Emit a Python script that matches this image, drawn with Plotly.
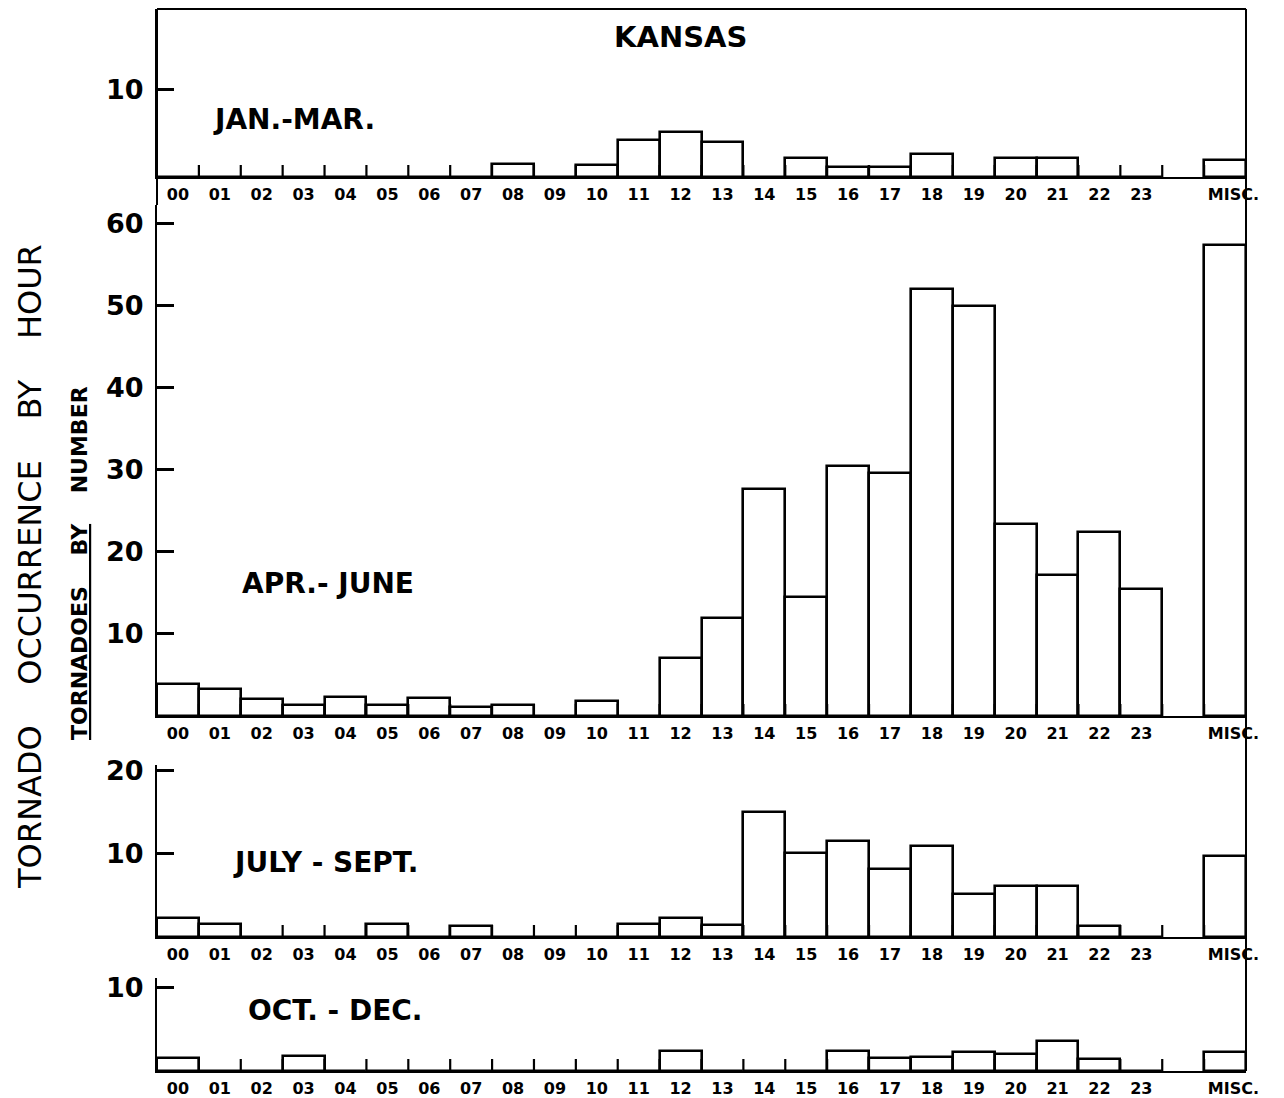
import plotly.graph_objects as go

# ---------------- data ----------------
hour_labels = ["00", "01", "02", "03", "04", "05", "06", "07", "08", "09", "10", "11",
               "12", "13", "14", "15", "16", "17", "18", "19", "20", "21", "22", "23"]
misc_label = "MISC."

jan_mar = [0, 0, 0, 0, 0, 0, 0, 0, 1.5, 0, 1.4, 4.2, 5.2, 4.0, 0, 2.2, 1.2, 1.2, 2.6, 0, 2.2, 2.2, 0, 0]
jan_mar_misc = 2.0

apr_jun = [3.9, 3.3, 2.1, 1.3, 2.3, 1.3, 2.2, 1.1, 1.4, 0, 1.8, 0, 7.1, 12.0, 27.7, 14.5, 30.5, 29.6,
           52.1, 50.0, 23.4, 17.2, 22.4, 15.5]
apr_jun_misc = 57.4

jul_sep = [2.3, 1.6, 0, 0, 0, 1.6, 0, 1.3, 0, 0, 0, 1.6, 2.3, 1.4, 15.1, 10.1, 11.5, 8.2, 10.9, 5.2,
           6.1, 6.1, 1.3, 0]
jul_sep_misc = 9.7

oct_dec = [1.6, 0, 0, 1.8, 0, 0, 0, 0, 0, 0, 0, 0, 2.4, 0, 0, 0, 2.4, 1.5, 1.7, 2.3, 2.0, 3.6, 1.4, 0]
oct_dec_misc = 2.3

panel_names = ["JAN.-MAR.", "APR.- JUNE", "JULY - SEPT.", "OCT. - DEC."]
panel_yticks = [[10], [10, 20, 30, 40, 50, 60], [10, 20], [10]]

# ---------------- layout helpers ----------------
OFF = 8                      # page body margin
W, H = 1276, 1090            # figure size (fits the window together with the body margin)
L = 157 - OFF
T = 1
R = W - (1246 - OFF)
B = H - (1071 - OFF)
PW, PH = W - L - R, H - T - B


def clamp(v):
    return min(1.0, max(0.0, v))


def px(x):            # screen x -> paper
    return (x - OFF - L) / PW


def py(y):            # screen y -> paper
    return clamp((H - B - (y - OFF)) / PH)


FONT = "DejaVu Sans"
nb = "\u00a0"
TICK_UP = 12          # pixel height of the hour-boundary tick marks

# panels: (values, misc, baseline px, top px, range max)
panels = [
    (jan_mar, jan_mar_misc, 177, 9, 19.3),
    (apr_jun, apr_jun_misc, 716, 205, 62.3),
    (jul_sep, jul_sep_misc, 937, 765, 20.7),
    (oct_dec, oct_dec_misc, 1071, 978, 11.1),
]

n = len(hour_labels)
xmax = n + 2
misc_pos = n + 1.5
x_centers = [i + 0.5 for i in range(n)] + [misc_pos]
label_pos_x = [i + 0.5 for i in range(n)] + [misc_pos + 0.2]
boundaries = list(range(1, n + 1)) + [n + 1]

# tick-mark segments built from the bin boundaries (strip y scale runs 0..1)
tick_x, tick_y = [], []
for b in boundaries:
    tick_x += [b, b, None]
    tick_y += [0, 1, None]

fig = go.Figure()
for k, (vals, misc, base, top, ymax) in enumerate(panels):
    idx = "" if k == 0 else str(k + 1)
    sidx = str(k + 5)
    yv = list(vals) + [misc]
    fig.add_trace(go.Bar(
        x=x_centers, y=yv, width=1,
        marker=dict(color="rgba(0,0,0,0)", line=dict(color="black", width=2.6)),
        xaxis="x" + idx, yaxis="y" + idx, showlegend=False, hoverinfo="skip",
    ))
    fig.layout["xaxis" + idx] = dict(
        domain=[0, 1], anchor="y" + idx, range=[0, xmax],
        tickmode="array", tickvals=label_pos_x, ticktext=hour_labels + [misc_label],
        ticks="", ticklabelstandoff=2,
        tickfont=dict(family=FONT, size=16, color="black", weight="bold"),
        showline=True, linecolor="black", linewidth=1.6,
        showgrid=False, zeroline=False, fixedrange=True,
    )
    fig.layout["yaxis" + idx] = dict(
        domain=[py(base), py(top)], anchor="x" + idx, range=[0, ymax],
        tickmode="array", tickvals=panel_yticks[k], ticks="inside", ticklen=17, tickwidth=2.5,
        tickcolor="black",
        tickfont=dict(family=FONT, size=27, color="black", weight="bold"),
        ticklabelstandoff=6,
        showline=True, linecolor="black", linewidth=2, showgrid=False, zeroline=False,
        fixedrange=True,
    )
    # thin strip just above the baseline holding the hour-boundary tick marks
    fig.add_trace(go.Scatter(
        x=tick_x, y=tick_y, mode="lines", line=dict(color="black", width=2.2),
        xaxis="x" + sidx, yaxis="y" + sidx, showlegend=False, hoverinfo="skip",
        cliponaxis=False,
    ))
    fig.layout["xaxis" + sidx] = dict(
        domain=[0, 1], anchor="y" + sidx, range=[0, xmax], visible=False,
        showgrid=False, zeroline=False, fixedrange=True,
    )
    fig.layout["yaxis" + sidx] = dict(
        domain=[py(base), py(base - TICK_UP)], anchor="x" + sidx, range=[0, 1],
        visible=False, showgrid=False, zeroline=False, fixedrange=True,
    )

shapes = [
    # top frame of first panel
    dict(type="line", xref="paper", yref="paper", x0=0, x1=1, y0=1, y1=1,
         line=dict(color="black", width=2)),
    # right-hand vertical line through all panels
    dict(type="line", xref="paper", yref="paper", x0=1, x1=1, y0=0, y1=1,
         line=dict(color="black", width=2)),
    # left frame continuing below first panel
    dict(type="line", xref="paper", yref="paper", x0=0, x1=0, y0=py(205), y1=1,
         line=dict(color="black", width=2)),
]

ann = []
label_pos = [(294, 120), (328, 583), (325, 862), (335, 1010)]
for name, (x, y) in zip(panel_names, label_pos):
    ann.append(dict(text=name, x=px(x), y=py(y), xref="paper", yref="paper",
                    showarrow=False, xanchor="center", yanchor="middle",
                    font=dict(family=FONT, size=28, color="black", weight="bold")))
ann.append(dict(text="KANSAS", x=px(680), y=py(37), xref="paper", yref="paper",
                showarrow=False, xanchor="center", yanchor="middle",
                font=dict(family=FONT, size=29, color="black", weight="bold")))
ann.append(dict(text=f"TORNADO{nb*4}OCCURRENCE{nb*4}BY{nb*4}HOUR", x=px(30), y=py(567),
                xref="paper", yref="paper", textangle=-90, showarrow=False,
                xanchor="center", yanchor="middle",
                font=dict(family=FONT, size=32, color="black")))
ann.append(dict(text=f"<u>TORNADOES{nb*4}BY</u>{nb*4}NUMBER", x=px(79), y=py(563),
                xref="paper", yref="paper", textangle=-90, showarrow=False,
                xanchor="center", yanchor="middle",
                font=dict(family=FONT, size=22, color="black", weight="bold")))

fig.update_layout(
    width=W, height=H,
    margin=dict(l=L, r=R, t=T, b=B, autoexpand=False),
    paper_bgcolor="white", plot_bgcolor="rgba(0,0,0,0)",
    barmode="overlay", bargap=0,
    shapes=shapes, annotations=ann,
    font=dict(family=FONT, color="black"),
)

fig.write_html("out.html", config={"displayModeBar": False})
